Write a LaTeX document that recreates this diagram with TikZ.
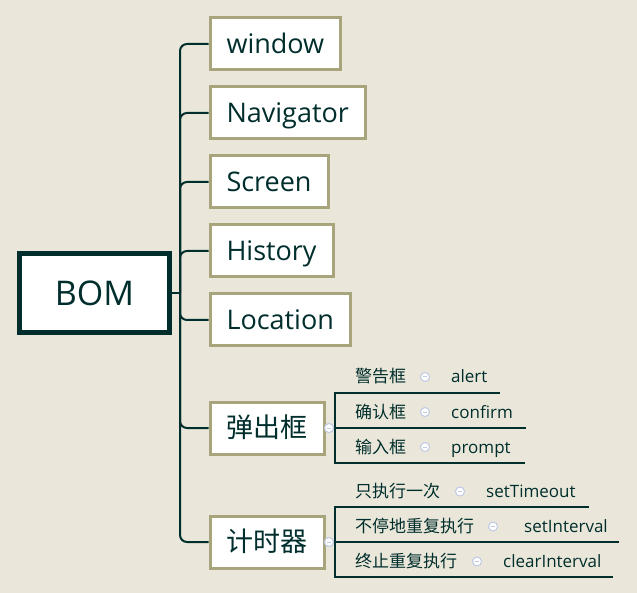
\documentclass[tikz,border=0pt]{standalone}
\usepackage{fontspec}
\setmainfont{Open Sans}
\newfontfamily\cjk{Noto Sans CJK SC}

\definecolor{paper}{RGB}{234,231,218}
\definecolor{ink}{RGB}{0,46,44}
\definecolor{rim}{RGB}{168,164,124}
\definecolor{knobrim}{RGB}{190,202,228}

\tikzset{
  rootbox/.style={draw=ink, line width=5pt, fill=white, minimum width=150pt,
    minimum height=79pt, text=ink, font=\fontsize{34}{40}\selectfont},
  mainbox/.style={draw=rim, line width=3pt, fill=white, anchor=west,
    minimum height=52pt, inner xsep=16.5pt, text height=24pt, text depth=5pt,
    text=ink, font=\fontsize{27}{32}\selectfont},
  branch/.style={draw=ink, line width=2pt, rounded corners=7pt},
  uline/.style={draw=ink, line width=2.5pt},
  leaf/.style={anchor=base west, inner sep=0pt, text=ink,
    font=\fontsize{17}{20}\selectfont},
  knob/.style={circle, draw=knobrim, line width=1pt, fill=white,
    minimum size=9pt, inner sep=0pt,
    path picture={\draw[knobrim, line width=1pt]
      ([xshift=-2pt]path picture bounding box.center) --
      ([xshift=2pt]path picture bounding box.center);}}
}

\begin{document}
\begin{tikzpicture}[x=1pt, y=-1pt]
      \useasboundingbox[fill=paper] (0,0) rectangle (637,593);

      \node[rootbox] (bom) at (94.5,293) {BOM};
      \coordinate (hub) at (180,293);

      \node[mainbox] (win) at (208.5,44) {window};
      \node[mainbox] (nav) at (208.5,113) {Navigator};
      \node[mainbox] (scr) at (208.5,182) {Screen};
      \node[mainbox] (his) at (208.5,251) {History};
      \node[mainbox] (loc) at (208.5,320) {Location};
      \node[mainbox] (popup) at (208.5,428) {\cjk 弹出框};
      \node[mainbox] (timer) at (208.5,542) {\cjk 计时器};

      \draw[branch] (bom.east) -- (hub);
      \draw[branch] (hub) |- (win.west);
      \draw[branch] (hub) |- (nav.west);
      \draw[branch] (hub) |- (scr.west);
      \draw[branch] (hub) |- (his.west);
      \draw[branch] (hub) |- (loc.west);
      \draw[branch] (hub) |- (popup.west);
      \draw[branch] (hub) |- (timer.west);

      % popup children
      \coordinate (popfork) at (335,428);
      \coordinate (warnL) at (335,393);
      \coordinate (warnR) at (500,393);
      \coordinate (confL) at (335,428);
      \coordinate (confR) at (526,428);
      \coordinate (inpL) at (335,463);
      \coordinate (inpR) at (525,463);
      \node[knob] (popknob) at (329,428) {};
      \draw[uline, line width=2pt] (popup.east) -- (popknob.west);
      \draw[uline] (popknob.east) -- (popfork);
      \draw[uline] (warnR) -- (warnL) -- (inpL) -- (inpR);
      \draw[uline] (confL) -- (confR);
      \node[knob] at (popknob) {};

      \node[leaf] (warn) at (355,383) {\cjk 警告框};
      \node[knob] (warnknob) at (425,377) {};
      \node[leaf] (alert) at (451,383) {alert};
      \node[leaf] (conf) at (355,418) {\cjk 确认框};
      \node[knob] (confknob) at (425,412) {};
      \node[leaf] (confirm) at (451,418) {confirm};
      \node[leaf] (inp) at (355,453) {\cjk 输入框};
      \node[knob] (inpknob) at (425,447) {};
      \node[leaf] (prompt) at (451,453) {prompt};

      % timer children
      \coordinate (timfork) at (335,542);
      \coordinate (onceL) at (335,507);
      \coordinate (onceR) at (589,507);
      \coordinate (repL) at (335,542);
      \coordinate (repR) at (619,542);
      \coordinate (stopL) at (335,577);
      \coordinate (stopR) at (613,577);
      \node[knob] (timknob) at (329,542) {};
      \draw[uline, line width=2pt] (timer.east) -- (timknob.west);
      \draw[uline] (timknob.east) -- (timfork);
      \draw[uline] (onceR) -- (onceL) -- (stopL) -- (stopR);
      \draw[uline] (repL) -- (repR);
      \node[knob] at (timknob) {};

      \node[leaf] (once) at (355,497) {\cjk 只执行一次};
      \node[knob] (onceknob) at (460,491.5) {};
      \node[leaf] (settimeout) at (486,497) {setTimeout};
      \node[leaf] (rep) at (355,532) {\cjk 不停地重复执行};
      \node[knob] (repknob) at (493,526.5) {};
      \node[leaf] (setinterval) at (524,532) {setInterval};
      \node[leaf] (stop) at (355,567) {\cjk 终止重复执行};
      \node[knob] (stopknob) at (477,561.5) {};
      \node[leaf] (clearinterval) at (503,567) {clearInterval};

\end{tikzpicture}
\end{document}
